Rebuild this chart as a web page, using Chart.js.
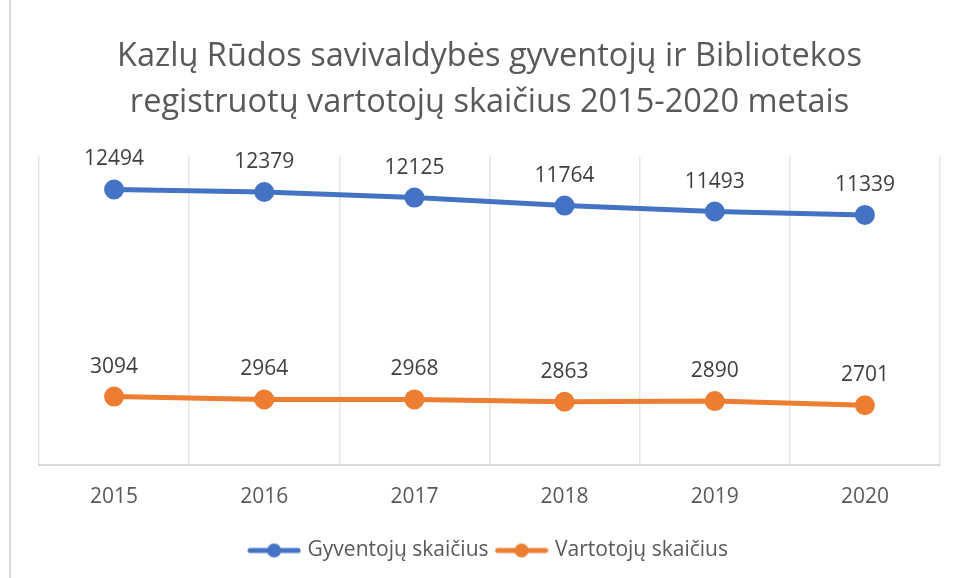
<!DOCTYPE html>
<html>
<head>
<meta charset="utf-8">
<script src="https://cdn.jsdelivr.net/npm/chart.js@4.4.0/dist/chart.umd.min.js"></script>
<style>
  html, body { margin: 0; padding: 0; background: #fff; }
  #wrap { width: 957px; height: 578px; position: relative; }
</style>
</head>
<body>
<div id="wrap"><canvas id="mycanvas" width="957" height="578"></canvas></div>
<script>
var years = ['2015', '2016', '2017', '2018', '2019', '2020'];
var gyventojai = [12494, 12379, 12125, 11764, 11493, 11339];
var vartotojai = [3094, 2964, 2968, 2863, 2890, 2701];
var titleLines = ['Kazlų Rūdos savivaldybės gyventojų ir Bibliotekos', 'registruotų vartotojų skaičius 2015-2020 metais'];

var FONT = '"Open Sans", "Noto Sans", sans-serif';

// legend symbol: short line with a dot in the middle
function legendIcon(color) {
	var c = document.createElement('canvas');
	c.width = 54; c.height = 16;
	var g = c.getContext('2d');
	g.strokeStyle = color;
	g.lineWidth = 5;
	g.lineCap = 'round';
	g.beginPath(); g.moveTo(3, 8); g.lineTo(51, 8); g.stroke();
	g.fillStyle = color;
	g.beginPath(); g.arc(27, 8, 7, 0, Math.PI * 2); g.fill();
	return c;
}

var valueLabels = {
	id: 'valueLabels',
	afterDatasetsDraw: function(chart) {
		var ctx = chart.ctx;
		ctx.save();
		ctx.font = '21px ' + FONT;
		ctx.fillStyle = '#404040';
		ctx.textAlign = 'center';
		ctx.textBaseline = 'alphabetic';
		chart.data.datasets.forEach(function(ds, i) {
			chart.getDatasetMeta(i).data.forEach(function(pt, j) {
				ctx.fillText(ds.data[j], pt.x, pt.y - 24);
			});
		});
		ctx.restore();
	}
};

var frame = {
	id: 'frame',
	beforeDraw: function(chart) {
		var ctx = chart.ctx;
		ctx.save();
		ctx.fillStyle = '#fff';
		ctx.fillRect(0, 0, chart.width, chart.height);
		ctx.strokeStyle = '#d9d9d9';
		ctx.lineWidth = 2;
		ctx.beginPath(); ctx.moveTo(10, 0); ctx.lineTo(10, chart.height); ctx.stroke();
		ctx.restore();
	}
};

var chartdata = {
	labels: years,
	datasets: [
		{
			label: 'Gyventojų skaičius',
			data: gyventojai,
			borderColor: '#4472C4',
			backgroundColor: '#4472C4',
			borderWidth: 5,
			pointRadius: 7.5,
			pointHoverRadius: 7.5,
			icon: legendIcon('#4472C4')
		},
		{
			label: 'Vartotojų skaičius',
			data: vartotojai,
			borderColor: '#ED7D31',
			backgroundColor: '#ED7D31',
			borderWidth: 5,
			pointRadius: 7.5,
			pointHoverRadius: 7.5,
			icon: legendIcon('#ED7D31')
		}
	]
};

new Chart(document.getElementById('mycanvas'), {
	type: 'line',
	data: chartdata,
	plugins: [frame, valueLabels],
	options: {
		responsive: false,
		animation: false,
		layout: { padding: { left: 39, right: 17, top: 0, bottom: 7 } },
		scales: {
			x: {
				offset: true,
				grid: { display: true, color: '#e6e6e6', lineWidth: 1.5, drawTicks: false, offset: true },
				border: { color: '#d9d9d9', width: 2 },
				ticks: { color: '#595959', font: { family: FONT, size: 21 }, padding: 20 }
			},
			y: {
				display: false,
				min: 0,
				max: 14000
			}
		},
		plugins: {
			title: {
				display: true,
				text: titleLines,
				color: '#595959',
				font: { family: FONT, size: 32.5, weight: 'normal', lineHeight: 1.42 },
				padding: { top: 34, bottom: 30 }
			},
			legend: {
				position: 'bottom',
				labels: {
					usePointStyle: true,
					pointStyleWidth: 46,
					color: '#595959',
					font: { family: FONT, size: 21 },
					padding: 10,
					generateLabels: function(chart) {
						return chart.data.datasets.map(function(ds, i) {
							return {
								text: ds.label,
								pointStyle: ds.icon,
								fillStyle: ds.borderColor,
								strokeStyle: ds.borderColor,
								fontColor: '#595959',
								lineWidth: 0,
								datasetIndex: i
							};
						});
					}
				}
			},
			tooltip: { enabled: false }
		}
	}
});
</script>
</body>
</html>
